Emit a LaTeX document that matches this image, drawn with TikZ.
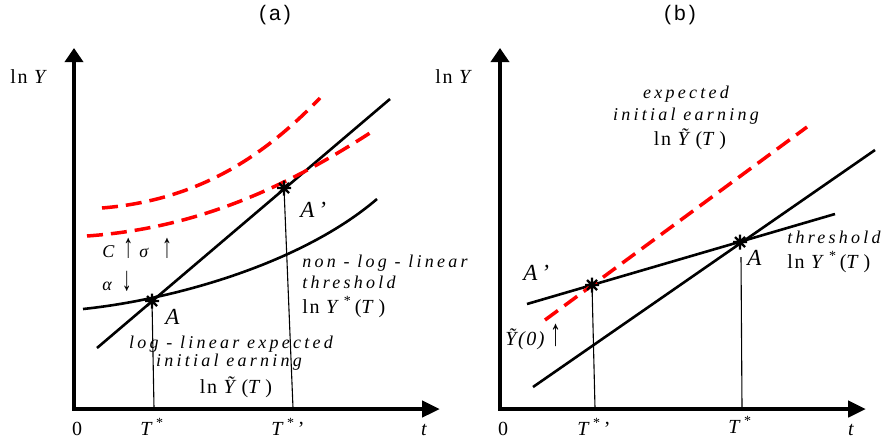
\documentclass[tikz,border=0pt]{standalone}
\usepackage{fontspec}
\usepackage{graphicx}
\setmainfont{Liberation Serif}
\newfontfamily\panelfont[LetterSpace=15]{Liberation Sans}
\newfontfamily\gapfont[LetterSpace=18]{Liberation Serif}
\newfontfamily\smallgap[LetterSpace=8]{Liberation Serif}
\newcommand{\tallup}{\scalebox{1.1}[1.9]{\upshape ↑}}
\newcommand{\talldown}{\scalebox{1.1}[1.9]{\upshape ↓}}
\usetikzlibrary{arrows.meta, positioning}

\begin{document}
\begin{tikzpicture}[x=1pt, y=-1pt, thick]

    % Define styles
    \tikzstyle{axis} = [line width=4.6pt, {Triangle[length=14pt, width=18pt]}-{Triangle[length=18pt, width=16pt]}]
    \tikzstyle{curve} = [line width=2.6pt, black]
    \tikzstyle{shifted} = [line width=3.5pt, red, dash pattern=on 16pt off 8pt]
    \tikzstyle{drop} = [line width=1.1pt]
    \tikzstyle{note} = [font=\fontsize{18}{22}\selectfont\gapfont\itshape, inner sep=0pt]
    \tikzstyle{formula} = [font=\fontsize{20}{24}\selectfont\smallgap, inner sep=0pt]
    \tikzstyle{tick} = [font=\fontsize{20}{24}\selectfont, inner sep=0pt, anchor=base]
    \tikzstyle{point} = [font=\fontsize{23}{26}\selectfont\itshape, inner sep=0pt, anchor=base west]
    \tikzstyle{panel} = [font=\fontsize{21}{24}\selectfont\panelfont, inner sep=0pt]
    \tikzset{asterisk/.pic={\draw[line width=2.2pt] (-7,0) -- (7,0) (0,-7.5) -- (0,7.5) (-5,-5) -- (5,5) (-5,5) -- (5,-5);}}

    \useasboundingbox (0,0) rectangle (890,444);

    % ---------------- panel (a) ----------------
    % Define key points
    \coordinate (oa) at (74,409);
    \coordinate (ya) at (74,48);
    \coordinate (xa) at (440,409);
    \coordinate (A) at (152,301);
    \coordinate (Ap) at (284,188);
    \coordinate (lineS) at (97,348);
    \coordinate (lineE) at (390,99);
    \coordinate (TA) at (154,408);
    \coordinate (TAp) at (293,408);

    % Draw axes
    \draw[axis] (ya) -- (oa) -- (xa);

    % Drop lines
    \draw[drop] (A) -- (TA);
    \draw[drop] (Ap) -- (TAp);

    % Log-linear expected initial earning
    \draw[curve] (lineS) -- (lineE);

    % Non-log-linear threshold
    \draw[curve] (83,309) .. controls (170,300) and (300,265) .. (377,199);

    % Shifted thresholds
    \draw[shifted] (102,208) .. controls (200,200) and (265,155) .. (320,98);
    \draw[shifted] (87,236) .. controls (200,228) and (290,185) .. (373,131);

    % Equilibria
    \pic at (A) {asterisk};
    \pic at (Ap) {asterisk};

    % Labels
    \node[panel] (titleA) at (275,15) {(a)};
    \node[formula, anchor=base west] (lnYa) at (10,83) {ln \textit{Y}};
    \node[tick] (zeroA) at (77,435) {0};
    \node[tick] (tstarA) at (152,435) {\textit{T}\,\textsuperscript{*}};
    \node[tick] (tstarpA) at (288,435) {\textit{T}\,\textsuperscript{*}\,'};
    \node[tick] (tA) at (424,435) {\textit{t}};
    \node[point] (labA) at (165,324) {A};
    \node[point] (labAp) at (300,217) {A\,'};
    \node[note, anchor=base west] (shiftC) at (102,257) {C\hspace{9pt}\tallup\hspace{6pt}σ\hspace{14pt}\tallup};
    \node[note, anchor=base west] (shiftAlpha) at (102,290) {α\hspace{10pt}\talldown};
    \node[note, anchor=base west] (thrA1) at (302,267) {non - log - linear};
    \node[note, anchor=base west] (thrA2) at (302,288) {threshold};
    \node[formula, anchor=base west] (thrA3) at (302,313) {ln \textit{Y}\,\textsuperscript{*}\,(\textit{T}\,)};
    \node[note, anchor=base] (earnA1) at (231,348) {log - linear expected};
    \node[note, anchor=base] (earnA2) at (229,366) {initial earning};
    \node[formula, anchor=base] (earnA3) at (236,393) {ln \textit{\~{Y}}\,(\textit{T}\,)};

    % ---------------- panel (b) ----------------
    % Define key points
    \coordinate (ob) at (500,409);
    \coordinate (yb) at (500,48);
    \coordinate (xb) at (866,409);
    \coordinate (B) at (740,242);
    \coordinate (Bp) at (592,285);
    \coordinate (earnS) at (533,387);
    \coordinate (earnE) at (875,150);
    \coordinate (thrS) at (527,304);
    \coordinate (thrE) at (835,214);
    \coordinate (redS) at (545,320);
    \coordinate (redE) at (807,127);
    \coordinate (dropB) at (741,257);
    \coordinate (TB) at (742,408);
    \coordinate (TBp) at (595,408);

    % Draw axes
    \draw[axis] (yb) -- (ob) -- (xb);

    % Drop lines
    \draw[drop] (Bp) -- (TBp);
    \draw[drop] (dropB) -- (TB);

    % Lines
    \draw[curve] (earnS) -- (earnE);
    \draw[curve] (thrS) -- (thrE);
    \draw[shifted] (redS) -- (redE);

    % Equilibria
    \pic at (B) {asterisk};
    \pic at (Bp) {asterisk};

    % Labels
    \node[panel] (titleB) at (680,15) {(b)};
    \node[formula, anchor=base west] (lnYb) at (435,83) {ln \textit{Y}};
    \node[tick] (zeroB) at (503,435) {0};
    \node[tick] (tstarpB) at (594,435) {\textit{T}\,\textsuperscript{*}\,'};
    \node[tick] (tstarB) at (740,433) {\textit{T}\,\textsuperscript{*}};
    \node[tick] (tB) at (851,435) {\textit{t}};
    \node[point] (labB) at (747,265) {A};
    \node[point] (labBp) at (523,280) {A\,'};
    \node[note, font=\fontsize{20}{24}\selectfont\smallgap\itshape, anchor=base west] (shiftY) at (505,345) {\~{Y}(0)\hspace{6pt}\tallup};
    \node[note, anchor=base] (earnB1) at (686,98) {expected};
    \node[note, anchor=base] (earnB2) at (686,120) {initial earning};
    \node[formula, anchor=base] (earnB3) at (690,145) {ln \textit{\~{Y}}\,(\textit{T}\,)};
    \node[note, anchor=base west] (thrB1) at (787,243) {threshold};
    \node[formula, anchor=base west] (thrB2) at (787,268) {ln \textit{Y}\,\textsuperscript{*}\,(\textit{T}\,)};

\end{tikzpicture}
\end{document}
